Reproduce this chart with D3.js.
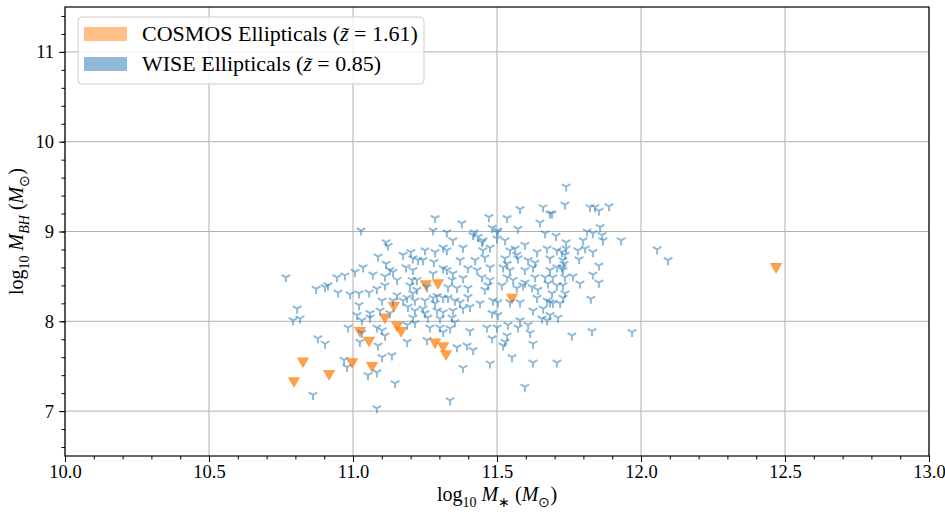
<!DOCTYPE html>
<html>
<head>
<meta charset="utf-8">
<script src="https://cdn.jsdelivr.net/npm/d3@7"></script>
<style>
  body { margin: 0; background: #fff; }
  text { font-family: "Liberation Serif", "Times New Roman", serif; fill: #000; }
</style>
</head>
<body>
<svg id="chart" width="945" height="515"></svg>
<script>
// log10 stellar mass and log10 black-hole mass of the WISE ellipticals
const wiseLogMstar = [
  11.740,11.736,11.823,11.840,11.854,11.889,11.691,11.580,11.660,11.684,11.285,11.378,11.472,11.535,
  11.649,11.573,11.278,11.326,11.420,11.483,11.503,11.705,11.667,11.028,11.115,11.347,11.434,11.448,
  11.500,11.528,11.858,11.813,11.833,11.865,11.868,11.931,11.799,11.740,
  11.122,11.087,11.174,11.201,11.208,11.382,11.326,11.285,11.250,11.451,11.476,11.563,11.597,11.639,
  11.674,11.708,12.056,12.094,11.726,11.781,11.806,11.833,11.243,11.281,11.372,11.424,11.458,11.528,
  11.569,11.573,11.608,11.684,11.736,11.729,11.785,11.313,
  11.632,11.115,11.184,11.035,11.007,10.972,10.944,11.069,11.111,11.139,10.767,11.208,11.313,11.326,
  11.347,11.399,11.431,11.476,11.521,11.545,11.597,11.625,11.684,11.708,11.278,11.344,11.382,11.448,
  11.476,11.535,11.556,11.597,11.632,11.667,11.677,11.205,11.726,11.729,11.854,11.694,11.736,11.764,
  11.833,11.128,11.153,11.222,11.226,
  10.872,10.903,10.913,10.948,10.990,11.021,11.056,11.083,11.111,11.222,11.330,11.361,11.399,11.458,
  11.469,11.517,11.569,11.590,11.622,11.642,11.708,11.788,11.854,11.729,11.691,11.736,11.153,11.188,
  11.208,11.250,11.313,11.372,11.399,11.486,11.503,11.580,11.639,11.684,11.729,11.826,11.694,11.719,
  11.174,11.139,11.101,11.215,
  11.021,10.806,10.792,10.816,11.014,11.059,11.094,11.128,11.191,11.059,11.031,11.278,11.330,11.406,
  11.441,11.545,11.674,11.215,11.243,11.292,11.313,11.347,11.382,11.483,11.503,11.625,11.660,11.684,
  11.712,11.208,11.260,11.302,11.344,11.656,11.674,11.580,
  11.354,11.215,10.983,11.083,11.101,11.031,11.188,11.267,11.302,11.313,11.337,11.406,11.465,11.500,
  11.538,11.573,11.608,11.615,11.535,11.483,11.528,11.521,11.625,11.257,11.361,11.396,11.417,10.878,
  10.903,11.024,11.087,11.111,11.188,11.760,11.830,11.969,
  10.969,10.979,11.101,11.135,11.052,11.083,11.146,11.083,10.861,11.552,11.476,11.382,11.625,11.708,
  11.597,11.337,
  11.535,11.733,11.740,11.545,11.451,11.417,11.500,11.257,11.292,11.250,11.285,11.354,11.198
];
const wiseLogMbh = [
  9.50,9.30,9.27,9.27,9.23,9.28,9.20,9.25,9.27,9.20,9.15,9.09,9.16,9.15,
  9.10,9.03,9.01,8.99,8.99,9.04,9.01,8.95,8.98,9.01,8.88,8.90,8.94,8.88,
  8.92,8.90,9.05,9.00,8.98,8.96,8.90,8.90,8.90,8.88,
  8.84,8.72,8.74,8.77,8.70,8.82,8.79,8.77,8.79,8.79,8.82,8.81,8.85,8.77,
  8.81,8.79,8.80,8.68,8.77,8.79,8.81,8.77,8.68,8.66,8.68,8.68,8.71,8.70,
  8.74,8.70,8.68,8.70,8.74,8.68,8.69,8.82,
  8.65,8.64,8.60,8.60,8.55,8.51,8.49,8.52,8.50,8.55,8.49,8.57,8.59,8.57,
  8.53,8.59,8.57,8.60,8.60,8.57,8.57,8.60,8.57,8.60,8.53,8.46,8.48,8.49,
  8.46,8.49,8.46,8.43,8.49,8.49,8.42,8.46,8.60,8.57,8.62,8.49,8.49,8.50,
  8.52,8.57,8.46,8.46,8.68,
  8.36,8.38,8.40,8.32,8.30,8.31,8.32,8.36,8.40,8.35,8.38,8.37,8.37,8.35,
  8.40,8.40,8.37,8.40,8.38,8.35,8.40,8.42,8.43,8.40,8.31,8.31,8.29,8.26,
  8.31,8.23,8.26,8.21,8.27,8.23,8.21,8.21,8.26,8.21,8.26,8.25,8.20,8.20,
  8.23,8.23,8.23,8.23,
  8.18,8.14,8.01,8.03,8.07,8.09,8.12,8.09,8.16,8.04,8.01,8.26,8.26,8.16,
  8.20,8.21,8.23,8.12,8.14,8.12,8.10,8.12,8.14,8.09,8.07,8.12,8.14,8.07,
  8.04,8.04,8.04,8.03,8.04,8.03,8.01,8.01,
  7.99,7.98,7.93,7.93,7.90,7.87,7.96,7.93,7.93,7.88,7.92,7.89,7.93,7.93,
  7.96,7.93,7.96,7.87,7.84,7.81,7.77,7.73,7.75,7.79,7.71,7.73,7.68,7.81,
  7.75,7.77,7.73,7.84,7.77,7.84,7.89,7.88,
  7.57,7.49,7.60,7.62,7.40,7.43,7.31,7.03,7.18,7.60,7.53,7.48,7.54,7.54,
  7.27,7.12,
  8.64,8.64,8.81,8.79,8.90,8.96,8.99,8.38,8.28,8.09,8.20,8.23,8.40
];

// log10 stellar mass and log10 black-hole mass of the COSMOS ellipticals
const cosmosLogMstar = [10.795,10.826,10.917,10.997,11.066,11.024,11.056,11.111,11.142,
                        11.153,11.167,11.253,11.295,11.285,11.313,11.323,11.552,12.469];
const cosmosLogMbh   = [7.32,7.54,7.40,7.53,7.49,7.88,7.77,8.03,8.16,
                        7.94,7.88,8.40,8.41,7.75,7.71,7.62,8.25,8.59];

const xTickValues = [10.0, 10.5, 11.0, 11.5, 12.0, 12.5, 13.0];
const yTickValues = [7, 8, 9, 10, 11];
const xDomain = [10, 13];
const yDomain = [6.5, 11.5];

const cosmosMedianZ = "1.61";
const wiseMedianZ = "0.85";

const blue = "#1f77b4", orange = "#ff7f0e";

const svg = d3.select("#chart");
const margin = { left: 65, right: 16, top: 7, bottom: 59 };
const W = 945, H = 515;
const x = d3.scaleLinear().domain(xDomain).range([margin.left, W - margin.right]);
const y = d3.scaleLinear().domain(yDomain).range([H - margin.bottom, margin.top]);
const FS = 20, TICK_FS = 18.5;

// grid
const grid = svg.append("g");
grid.selectAll(".gx").data(xTickValues).join("line")
  .attr("x1", d => x(d)).attr("x2", d => x(d))
  .attr("y1", y.range()[0]).attr("y2", y.range()[1])
  .attr("stroke", "#b0b0b0").attr("stroke-width", 1);
grid.selectAll(".gy").data(yTickValues).join("line")
  .attr("y1", d => y(d)).attr("y2", d => y(d))
  .attr("x1", x.range()[0]).attr("x2", x.range()[1])
  .attr("stroke", "#b0b0b0").attr("stroke-width", 1);

// COSMOS: downward triangles
const tri = "M-6.2,-5.2 L6.2,-5.2 L0,5.6 Z";
svg.append("g").selectAll("path").data(cosmosLogMstar).join("path")
  .attr("d", tri)
  .attr("transform", (d, i) => `translate(${x(d)},${y(cosmosLogMbh[i])})`)
  .attr("fill", orange).attr("fill-opacity", 0.75);

// WISE: tri_down markers
const triDown = "M0,0 L0,5 M0,0 L-4.33,-2.5 M0,0 L4.33,-2.5";
svg.append("g").selectAll("path").data(wiseLogMstar).join("path")
  .attr("d", triDown)
  .attr("transform", (d, i) => `translate(${x(d)},${y(wiseLogMbh[i])})`)
  .attr("fill", "none").attr("stroke", blue).attr("stroke-width", 2)
  .attr("stroke-opacity", 0.5);

// axes
const xMinor = d3.range(100, 131).map(v => v / 10);
const yMinor = d3.range(33, 58).map(v => v / 5);
svg.append("g").attr("transform", `translate(0,${y.range()[0]})`)
  .call(d3.axisBottom(x).tickValues(xTickValues).tickFormat(d3.format(".1f")).tickSize(6).tickPadding(3));
svg.append("g").attr("transform", `translate(0,${y.range()[0]})`)
  .call(d3.axisBottom(x).tickValues(xMinor).tickFormat("").tickSize(3.5));
svg.append("g").attr("transform", `translate(${x.range()[0]},0)`)
  .call(d3.axisLeft(y).tickValues(yTickValues).tickFormat(d3.format("d")).tickSize(6).tickPadding(5));
svg.append("g").attr("transform", `translate(${x.range()[0]},0)`)
  .call(d3.axisLeft(y).tickValues(yMinor).tickFormat("").tickSize(3.5));
svg.selectAll(".domain").remove();
svg.selectAll(".tick line").attr("stroke", "#000").attr("stroke-width", 1);
svg.selectAll(".tick text").attr("font-size", TICK_FS).attr("font-family", "Liberation Serif");

// frame
svg.append("rect")
  .attr("x", x.range()[0]).attr("y", y.range()[1])
  .attr("width", x.range()[1] - x.range()[0]).attr("height", y.range()[0] - y.range()[1])
  .attr("fill", "none").attr("stroke", "#000").attr("stroke-width", 1.2);

// mixed roman / italic / subscript text
function richText(sel, runs, size) {
  let shifted = 0;
  runs.forEach(r => {
    const t = sel.append("tspan").text(r.t);
    if (r.it) t.attr("font-style", "italic");
    const target = r.sub ? size * 0.28 : 0;
    if (target !== shifted) { t.attr("dy", target - shifted); shifted = target; }
    if (r.sub) t.attr("font-size", size * 0.7);
  });
}

// axis titles
const xt = svg.append("text").attr("x", (x.range()[0] + x.range()[1]) / 2).attr("y", 501)
  .attr("text-anchor", "middle").attr("font-size", FS);
richText(xt, [{ t: "log" }, { t: "10", sub: true }, { t: " " }, { t: "M", it: true }, { t: "∗", sub: true },
  { t: " (" }, { t: "M", it: true }, { t: "⊙", sub: true }, { t: ")" }], FS);

const yt = svg.append("text")
  .attr("transform", `translate(23,${(y.range()[0] + y.range()[1]) / 2}) rotate(-90)`)
  .attr("text-anchor", "middle").attr("font-size", FS);
richText(yt, [{ t: "log" }, { t: "10", sub: true }, { t: " " }, { t: "M", it: true }, { t: "BH", it: true, sub: true },
  { t: " (" }, { t: "M", it: true }, { t: "⊙", sub: true }, { t: ")" }], FS);

// legend
const legend = svg.append("g");
legend.append("rect").attr("x", 78).attr("y", 17).attr("width", 346).attr("height", 67).attr("rx", 4)
  .attr("fill", "#fff").attr("fill-opacity", 0.8).attr("stroke", "#cccccc").attr("stroke-width", 1);
const entries = [
  { color: orange, name: "COSMOS Ellipticals", z: cosmosMedianZ },
  { color: blue, name: "WISE Ellipticals", z: wiseMedianZ }
];
entries.forEach((e, i) => {
  const cy = 34 + i * 30;
  legend.append("rect").attr("x", 84).attr("y", cy - 7).attr("width", 43).attr("height", 14)
    .attr("fill", e.color).attr("fill-opacity", 0.5);
  const t = legend.append("text").attr("x", 142).attr("y", cy + 7).attr("font-size", 22);
  richText(t, [{ t: e.name + " (" }, { t: "z\u0303", it: true }, { t: " = " + e.z + ")" }], 22);
});
</script>
</body>
</html>
